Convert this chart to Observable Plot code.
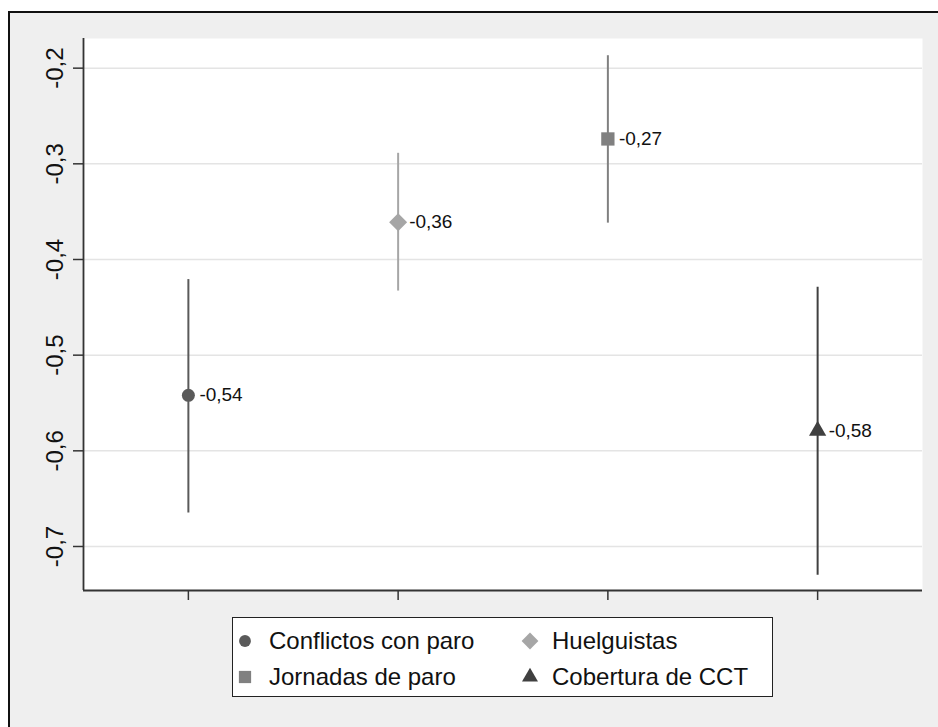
<!DOCTYPE html>
<html>
<head>
<meta charset="utf-8">
<script src="https://cdn.jsdelivr.net/npm/d3@7"></script>
<script src="https://cdn.jsdelivr.net/npm/@observablehq/plot@0.6"></script>
<style>
  html, body { margin: 0; padding: 0; background: #ffffff; }
  #wrap { position: relative; width: 938px; height: 727px; overflow: hidden; font-family: "Liberation Sans", Arial, sans-serif; }
  #outer { position: absolute; left: 8px; top: 11px; width: 940px; height: 730px; background: #efefef; border-left: 2px solid #111; border-top: 2px solid #111; box-sizing: border-box; }
  #chart { position: absolute; left: 0; top: 0; }
  #legend { position: absolute; left: 232px; top: 617px; width: 541px; height: 80px; background: #ffffff; border: 1.5px solid #222; box-sizing: border-box; }
  .item { position: absolute; font-size: 24px; color: #111; line-height: 1; white-space: nowrap; }
  .sym { position: absolute; }
</style>
</head>
<body>
<div id="wrap">
  <div id="outer"></div>
  <div id="chart"></div>
  <div id="legend"></div>
</div>
<script>
// Data
const series = ["Conflictos con paro", "Huelguistas", "Jornadas de paro", "Cobertura de CCT"];
const positions = [1, 2, 3, 4];
const estimates = [-0.542, -0.361, -0.274, -0.579];
const lower = [-0.665, -0.433, -0.362, -0.730];
const upper = [-0.421, -0.289, -0.187, -0.429];
const symbols = ["circle", "diamond2", "square", "triangle"];
const radii = [6.5, 8.1, 7.5, 6.4];
const colors = ["#5a5a5a", "#a6a6a6", "#808080", "#404040"];
const yTicks = [-0.2, -0.3, -0.4, -0.5, -0.6, -0.7];
const xTicks = [1, 2, 3, 4];
const xDomain = [0.5, 4.5];
const yDomain = [-0.746, -0.169];

const fmt = (v, n) => v.toFixed(n).replace(".", ",");

const rows = series.map((s, i) => ({
  name: s, x: positions[i], est: estimates[i], lo: lower[i], hi: upper[i],
  symbol: symbols[i], r: radii[i], color: colors[i]
}));

const marks = [
  Plot.frame({fill: "white", stroke: null}),
  Plot.gridY(yTicks, {stroke: "#e4e4e4", strokeOpacity: 1, strokeWidth: 1.5}),
  Plot.axisY(yTicks, {label: null, tickSize: 10, tickPadding: 11, tickRotate: -90, tickFormat: d => fmt(d, 1), fontSize: 24, stroke: "#333", strokeWidth: 1.5, fill: "#111"}),
  Plot.axisX(xTicks, {label: null, tickSize: 10, tickFormat: () => "", stroke: "#333", strokeWidth: 1.5}),
  Plot.ruleX([xDomain[0]], {stroke: "#333", strokeWidth: 1.8}),
  Plot.ruleY([yDomain[0]], {stroke: "#333", strokeWidth: 1.8})
];

rows.forEach(d => {
  marks.push(Plot.ruleX([d], {x: "x", y1: "lo", y2: "hi", stroke: d.color, strokeWidth: 2}));
  marks.push(Plot.dot([d], {x: "x", y: "est", symbol: d.symbol, r: d.r, fill: d.color, stroke: "none"}));
  marks.push(Plot.text([d], {x: "x", y: "est", text: e => fmt(e.est, 2), dx: 11, textAnchor: "start", fontSize: 19, fill: "#111"}));
});

const chart = Plot.plot({
  width: 938,
  height: 727,
  marginLeft: 83,
  marginRight: 16,
  marginTop: 38,
  marginBottom: 137,
  x: {domain: xDomain, axis: null, label: null},
  y: {domain: yDomain, axis: null, label: null},
  style: {background: "transparent", fontFamily: "'Liberation Sans', Arial, sans-serif", color: "#111", overflow: "visible"},
  marks
});
document.getElementById("chart").appendChild(chart);

// Legend (HTML)
const legend = document.getElementById("legend");
const legendPos = [
  {sx: 12, tx: 36, cy: 23},
  {sx: 297, tx: 319, cy: 23},
  {sx: 12, tx: 36, cy: 59},
  {sx: 297, tx: 319, cy: 59}
];
const legendOrder = [0, 1, 2, 3];
const legendSyms = [d3.symbolCircle, d3.symbolDiamond2, d3.symbolSquare, d3.symbolTriangle];
const legendSizes = [110, 180, 150, 110];
legendOrder.forEach((i, k) => {
  const p = legendPos[k];
  const svg = d3.create("svg").attr("class", "sym").attr("width", 24).attr("height", 24)
    .style("left", (p.sx - 12) + "px").style("top", (p.cy - 12) + "px");
  svg.append("path").attr("transform", "translate(12,12)")
    .attr("d", d3.symbol(legendSyms[i], legendSizes[i])()).attr("fill", colors[i]);
  legend.appendChild(svg.node());
  const t = document.createElement("div");
  t.className = "item";
  t.textContent = series[i];
  t.style.left = p.tx + "px";
  t.style.top = (p.cy - 12) + "px";
  legend.appendChild(t);
});
</script>
</body>
</html>
